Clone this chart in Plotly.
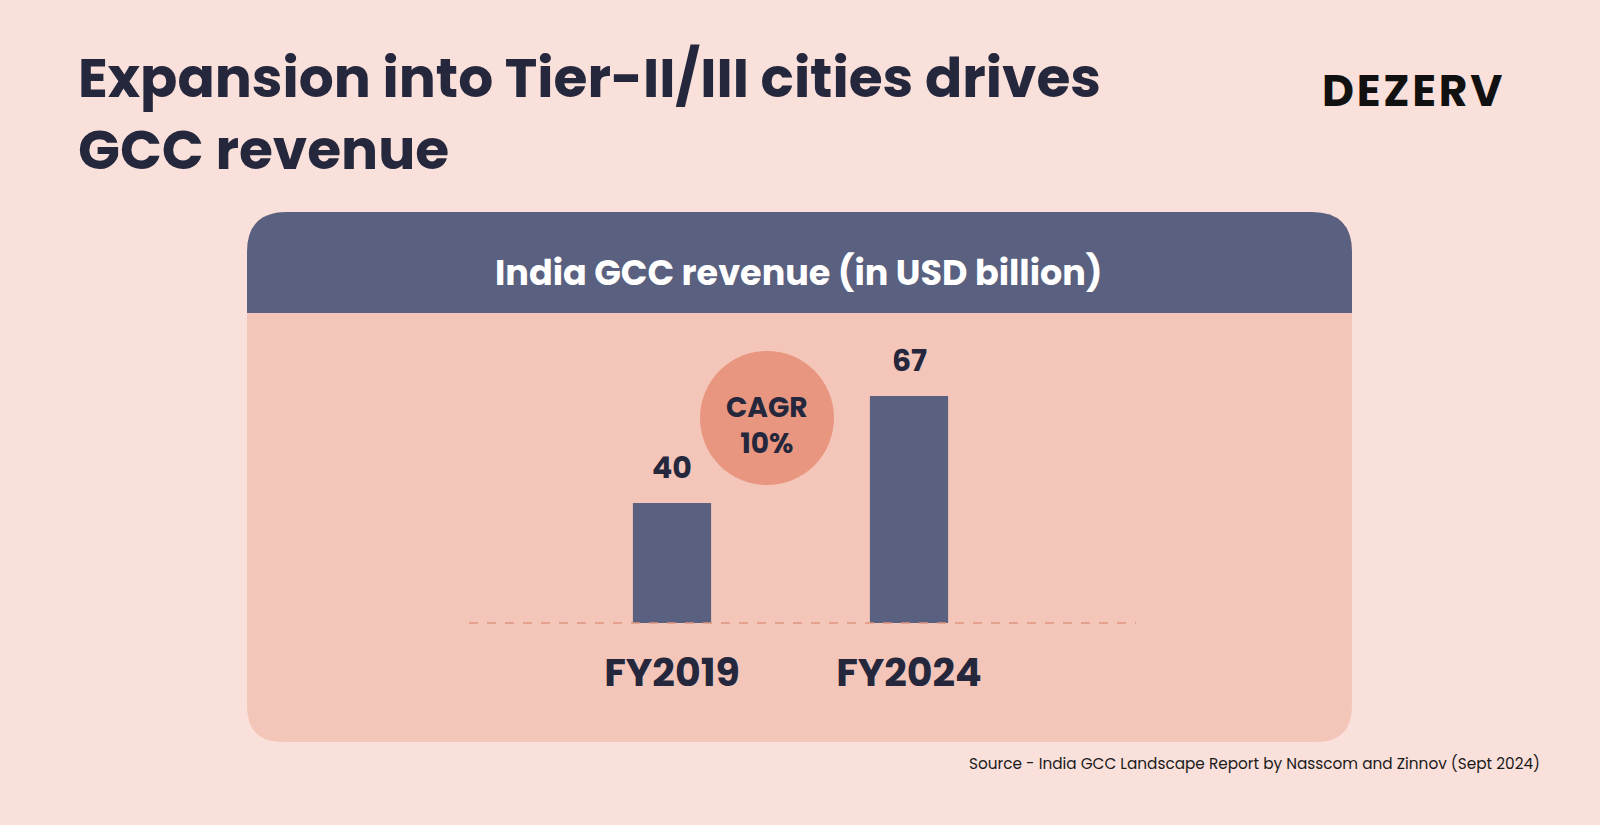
import plotly.graph_objects as go

W, H = 1600, 825

# ---- data ----
categories = ["FY2019", "FY2024"]
revenue = [40, 67]
value_labels = ["40", "67"]
cagr_lines = ["CAGR", "10%"]
title_lines = ["Expansion into Tier-II/III cities drives", "GCC revenue"]
panel_title = "India GCC revenue (in USD billion)"
brand = "DEZERV"
source = "Source - India GCC Landscape Report by Nasscom and Zinnov (Sept 2024)"

# ---- styles ----
BG = "#FAE0DA"
CARD = "#F4C6B9"
NAVY = "#596080"
DARK = "#25273D"
CIRCLE = "#E8967F"
DASH = "#DE957F"
FONT = "Poppins, 'Open Sans', sans-serif"


def px(x):
    return x / W


def py(y):
    return 1 - y / H


def rounded_rect(x0, y0, x1, y1, r_top, r_bot):
    rx_t, ry_t = r_top / W, r_top / H
    rx_b, ry_b = r_bot / W, r_bot / H
    X0, X1 = px(x0), px(x1)
    YT, YB = py(y0), py(y1)
    p = f"M {X0+rx_t},{YT} L {X1-rx_t},{YT} Q {X1},{YT} {X1},{YT-ry_t} "
    p += f"L {X1},{YB+ry_b} "
    if r_bot > 0:
        p += f"Q {X1},{YB} {X1-rx_b},{YB} "
    p += f"L {X0+rx_b},{YB} "
    if r_bot > 0:
        p += f"Q {X0},{YB} {X0},{YB+ry_b} "
    p += f"L {X0},{YT-ry_t} Q {X0},{YT} {X0+rx_t},{YT} Z"
    return p


fig = go.Figure()
fig.add_trace(go.Bar(
    x=categories, y=revenue, width=0.33,
    marker=dict(color=NAVY, line=dict(width=0)),
    hoverinfo="skip",
))

# axis geometry
k = 3.963
y_min = 9.72
dom_bot_px, dom_top_px = 623, 320
y_max = y_min + (dom_bot_px - dom_top_px) / k

shapes = [
    dict(type="path", xref="paper", yref="paper",
         path=rounded_rect(247, 212, 1352, 742, 40, 36),
         fillcolor=CARD, line=dict(width=0), layer="below"),
    dict(type="path", xref="paper", yref="paper",
         path=rounded_rect(247, 212, 1352, 313, 40, 0),
         fillcolor=NAVY, line=dict(width=0), layer="below"),
    dict(type="circle", xref="paper", yref="paper",
         x0=px(767 - 67), x1=px(767 + 67), y0=py(418 + 67), y1=py(418 - 67),
         fillcolor=CIRCLE, line=dict(width=0), layer="below"),
    dict(type="line", xref="paper", yref="paper",
         x0=px(469), x1=px(1136), y0=py(623), y1=py(623),
         line=dict(color=DASH, width=1.3, dash="dash"), layer="above"),
]

HS = "\u200a"
annotations = [
    dict(text="<br>".join(f"<b>{t}</b>" for t in title_lines),
         x=px(76), y=py(113), xref="paper", yref="paper",
         xanchor="left", yanchor="middle", align="left", showarrow=False,
         font=dict(family=FONT, size=55, color=DARK)),
    dict(text="<b>" + HS.join(brand) + "</b>", x=px(1504), y=py(90), xref="paper", yref="paper",
         xanchor="right", yanchor="middle", showarrow=False,
         font=dict(family=FONT, size=44, color="#111111")),
    dict(text=f"<b>{panel_title}</b>", x=px(799), y=py(272), xref="paper", yref="paper",
         xanchor="center", yanchor="middle", showarrow=False,
         font=dict(family=FONT, size=35, color="white")),
    dict(text="<br>".join(f"<b>{t}</b>" for t in cagr_lines),
         x=px(767), y=py(425), xref="paper", yref="paper",
         xanchor="center", yanchor="middle", showarrow=False,
         font=dict(family=FONT, size=28, color=DARK)),
    dict(text=source, x=px(1542), y=py(763), xref="paper", yref="paper",
         xanchor="right", yanchor="middle", showarrow=False,
         font=dict(family=FONT, size=15.3, color="#1a1a1a")),
]
for c, v, t in zip(categories, revenue, value_labels):
    annotations.append(dict(
        text=f"<b>{t}</b>", x=c, y=v, xref="x", yref="y",
        xanchor="center", yanchor="bottom", yshift=12, showarrow=False,
        font=dict(family=FONT, size=30, color=DARK)))

fig.update_layout(
    width=W, height=H, autosize=False,
    margin=dict(l=0, r=0, t=0, b=0),
    paper_bgcolor=BG, plot_bgcolor="rgba(0,0,0,0)",
    showlegend=False,
    shapes=shapes, annotations=annotations,
    xaxis=dict(domain=[px(435), px(1146)], range=[-1, 2], type="category",
               showgrid=False, zeroline=False, showline=False,
               ticks="outside", ticklen=15, tickcolor="rgba(0,0,0,0)",
               tickfont=dict(family=FONT, size=39.5, color=DARK),
               tickvals=categories, ticktext=[f"<b>{c}</b>" for c in categories],
               fixedrange=True),
    yaxis=dict(domain=[py(dom_bot_px), py(dom_top_px)], range=[y_min, y_max],
               showgrid=False, zeroline=False, showline=False,
               showticklabels=False, ticks="", fixedrange=True),
)

fig.write_html("out.html", config={"displayModeBar": False})
